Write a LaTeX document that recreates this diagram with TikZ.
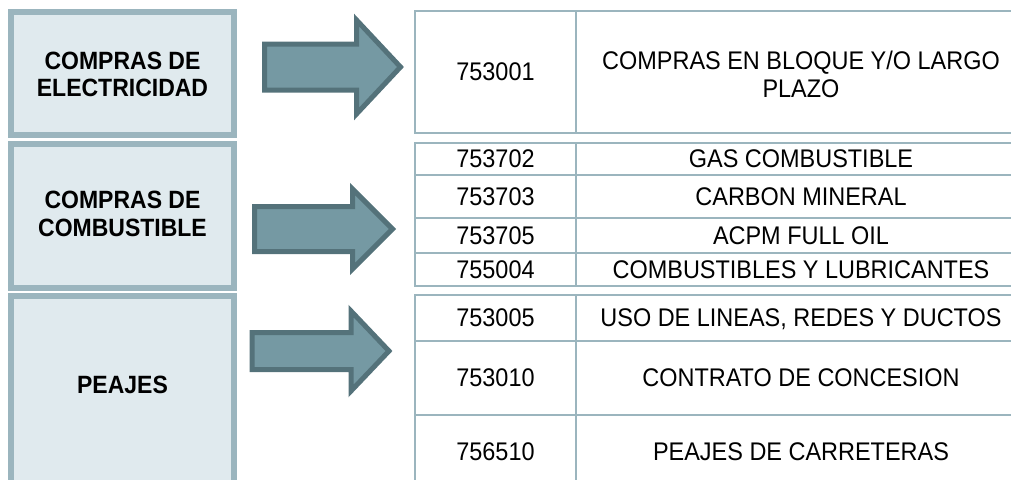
\documentclass[tikz,border=0pt]{standalone}
\usepackage{fontspec}
\setmainfont{Liberation Sans}[FakeStretch=0.92]
\definecolor{boxline}{RGB}{155,181,190}
\definecolor{boxfill}{RGB}{224,234,238}
\definecolor{arrowfill}{RGB}{117,153,163}
\definecolor{arrowline}{RGB}{84,114,122}
\tikzset{
	catbox/.style={draw=boxline, fill=boxfill, line width=6pt},
	catlabel/.style={font=\fontsize{25}{27.5}\selectfont\bfseries, align=center},
	cell/.style={font=\fontsize{25.5}{27.5}\selectfont, align=center, text depth=0pt},
	rule/.style={draw=boxline, line width=2.5pt},
	bigarrow/.style={draw=arrowline, fill=arrowfill, line width=5pt, line join=miter},
}
% block arrow: (shaft left, head base, tip)(mid y, shaft half, head half)
\def\blockarrow(#1,#2,#3)(#4,#5,#6){\draw[bigarrow] (#1,#4-#5) -- (#2,#4-#5) -- (#2,#4-#6) -- (#3,#4) -- (#2,#4+#6) -- (#2,#4+#5) -- (#1,#4+#5) -- cycle;}

\begin{document}
\begin{tikzpicture}[x=1pt, y=-1pt]
		%%%%% START %%%%%
		\useasboundingbox (0,0) rectangle (1011,479);
		\clip (0,0) rectangle (1011,479);
		
		% categories
		\draw[catbox] (11,12) rectangle (234,135);
		\draw[catbox] (11,144) rectangle (234,288);
		\draw[catbox] (11,296) rectangle (234,500);
		\node[catlabel] (elec) at (122.5,74.5) {COMPRAS DE\\ELECTRICIDAD};
		\node[catlabel] (comb) at (122.5,214) {COMPRAS DE\\COMBUSTIBLE};
		\node[catlabel] (peaj) at (122.5,385) {PEAJES};
		
		% arrows
		\blockarrow(264.5,356.5,400.5)(67,23,47);
		\blockarrow(254.5,352.5,392.5)(229,22.5,40);
		\blockarrow(252,351,389)(351,18.5,40);
		
		% table 1
		\draw[rule] (1030,11) -- (415,11) -- (415,133) -- (1030,133);
		\draw[rule] (576,11) -- (576,133);
		\node[cell] (c1) at (495.5,72) {753001};
		\node[cell] (d1) at (801,74.5) {COMPRAS EN BLOQUE Y/O LARGO\\PLAZO};
		
		% table 2
		\draw[rule] (1030,143) -- (415,143) -- (415,286) -- (1030,286);
		\draw[rule] (576,143) -- (576,286);
		\foreach \y in {175,218,253}
			\draw[rule] (415,\y) -- (1030,\y);
		\node[cell] (c2) at (495.5,159) {753702};
		\node[cell] (d2) at (801,159) {GAS COMBUSTIBLE};
		\node[cell] (c3) at (495.5,196.5) {753703};
		\node[cell] (d3) at (801,196.5) {CARBON MINERAL};
		\node[cell] (c4) at (495.5,235.5) {753705};
		\node[cell] (d4) at (801,235.5) {ACPM FULL OIL};
		\node[cell] (c5) at (495.5,269.5) {755004};
		\node[cell] (d5) at (801,269.5) {COMBUSTIBLES Y LUBRICANTES};
		
		% table 3
		\draw[rule] (1030,295) -- (415,295) -- (415,500);
		\draw[rule] (576,295) -- (576,500);
		\foreach \y in {341,415}
			\draw[rule] (415,\y) -- (1030,\y);
		\node[cell] (c6) at (495.5,318) {753005};
		\node[cell] (d6) at (801,318) {USO DE LINEAS, REDES Y DUCTOS};
		\node[cell] (c7) at (495.5,378) {753010};
		\node[cell] (d7) at (801,378) {CONTRATO DE CONCESION};
		\node[cell] (c8) at (495.5,452) {756510};
		\node[cell] (d8) at (801,452) {PEAJES DE CARRETERAS};
		
		%%%%% END %%%%%
	\end{tikzpicture}
\end{document}
